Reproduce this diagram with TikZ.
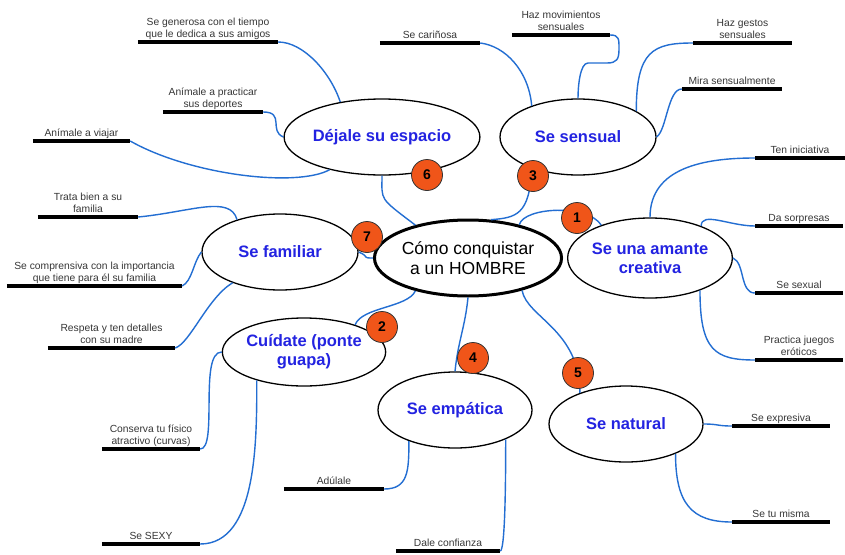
\documentclass[tikz,border=0pt]{standalone}
\usepackage{fontspec}
\setmainfont{Liberation Sans}
\usetikzlibrary{shapes.geometric}
\definecolor{conn}{RGB}{35,110,210}
\definecolor{lblue}{RGB}{35,35,225}
\definecolor{numorange}{RGB}{240,85,25}
\definecolor{ltext}{RGB}{55,55,55}
\begin{document}
\begin{tikzpicture}[x=1pt,y=-1pt,
  topic/.style={ellipse, draw=black, line width=1.3pt, fill=white, inner sep=0pt,
    font=\fontsize{16.5}{19}\selectfont\bfseries, text=lblue, align=center},
  mainidea/.style={topic, line width=3pt, font=\fontsize{17.5}{20}\selectfont, text=black},
  num/.style={circle, draw=black!80, line width=0.8pt, fill=numorange, minimum size=31pt,
    inner sep=0pt, font=\fontsize{14}{14}\selectfont\bfseries},
  leaf/.style={anchor=south, align=center, font=\fontsize{10.3}{12.5}\selectfont, text=ltext,
    inner xsep=0pt, inner ysep=1.5pt, text depth=2.5pt},
  bar/.style={line width=4pt, black},
  link/.style={draw=conn, line width=1.4pt}]
\useasboundingbox[fill=white] (0,0) rectangle (845,554);

% topics
\node[mainidea, minimum width=156pt, minimum height=76pt] (ctr) at (468,258) {Cómo conquistar\\a un HOMBRE};
\node[topic, minimum width=154pt, minimum height=76pt] (dej) at (382,137) {Déjale su espacio};
\node[topic, minimum width=156pt, minimum height=76pt] (sen) at (578,137) {Se sensual};
\node[topic, minimum width=154pt, minimum height=80pt] (ama) at (650,258) {Se una amante\\creativa};
\node[topic, minimum width=156pt, minimum height=76pt] (fam) at (280,252) {Se familiar};
\node[topic, minimum width=152pt, minimum height=68pt] (cui) at (304,352) {Cuídate (ponte\\guapa)};
\node[topic, minimum width=154pt, minimum height=76pt] (emp) at (455,410) {Se empática};
\node[topic, minimum width=154pt, minimum height=76pt] (nat) at (626,424) {Se natural};

% leaves
\node[leaf, minimum width=140pt] (gen) at (208,42) {Se generosa con el tiempo\\que le dedica a sus amigos};
\node[leaf, minimum width=100pt] (dep) at (213,112) {Anímale a practicar\\sus deportes};
\node[leaf, minimum width=97pt] (via) at (81.5,141) {Anímale a viajar};
\node[leaf, minimum width=100pt] (tra) at (88,217) {Trata bien a su\\familia};
\node[leaf, minimum width=175pt] (com) at (94.5,286) {Se comprensiva con la importancia\\que tiene para él su familia};
\node[leaf, minimum width=127pt] (res) at (111.5,348) {Respeta y ten detalles\\con su madre};
\node[leaf, minimum width=98pt] (con) at (151,449) {Conserva tu físico\\atractivo (curvas)};
\node[leaf, minimum width=98pt] (sexy) at (151,544) {Se SEXY};
\node[leaf, minimum width=100pt] (adu) at (334,489) {Adúlale};
\node[leaf, minimum width=104pt] (dale) at (448,551) {Dale confianza};
\node[leaf, minimum width=98pt] (exp) at (781,426) {Se expresiva};
\node[leaf, minimum width=98pt] (mis) at (781,522) {Se tu misma};
\node[leaf, minimum width=88pt] (jue) at (799,360) {Practica juegos\\eróticos};
\node[leaf, minimum width=88pt] (sex) at (799,293) {Se sexual};
\node[leaf, minimum width=88pt] (sor) at (799,226) {Da sorpresas};
\node[leaf, minimum width=90pt] (ini) at (800,158) {Ten iniciativa};
\node[leaf, minimum width=100pt] (mira) at (732,89) {Mira sensualmente};
\node[leaf, minimum width=99pt] (ges) at (742.5,43) {Haz gestos\\sensuales};
\node[leaf, minimum width=98pt] (mov) at (561,35) {Haz movimientos\\sensuales};
\node[leaf, minimum width=100pt] (car) at (430,43) {Se cariñosa};

\foreach \l in {gen,dep,via,tra,com,res,con,sexy,adu,dale,exp,mis,jue,sex,sor,ini,mira,ges,mov,car}
  \draw[bar] (\l.south west) -- (\l.south east);

% bend points
\coordinate (m1) at (619,49);
\coordinate (m2) at (607,63);
\coordinate (m3) at (588,63);

% leaf connectors
\path[link] (gen.south east) .. controls +(25,0) and +(-10,-30) .. (dej.140);
\path[link] (dep.south east) .. controls +(22,0) and +(-15,-6) .. (dej.west);
\path[link] (via.south east) .. controls +(60,34) and +(-33,18) .. (dej.212);
\path[link] (tra.south east) .. controls +(52,-5) and +(-7,-25) .. (fam.143);
\path[link] (com.south east) .. controls +(10,-5) and +(-8,10) .. (fam.west);
\path[link] (res.south east) .. controls +(15,-5) and +(-25,15) .. (fam.213);
\path[link] (con.south east) .. controls +(18,0) and +(-23,0) .. (cui.west);
\path[link] (sexy.south east) .. controls +(57,0) and +(0,60) .. (cui.211);
\path[link] (adu.south east) .. controls +(24,0) and +(0,30) .. (emp.214);
\path[link] (dale.south east) .. controls +(5,0) and +(0,40) .. (emp.330);
\path[link] (nat.east) .. controls +(15,0) and +(-15,0) .. (exp.south west);
\path[link] (nat.329) .. controls +(0,50) and +(-40,0) .. (mis.south west);
\path[link] (ama.327) .. controls +(0,60) and +(-40,0) .. (jue.south west);
\path[link] (ama.east) .. controls +(12,5) and +(-15,0) .. (sex.south west);
\path[link] (ama.32) .. controls +(0,-15) and +(-25,0) .. (sor.south west);
\path[link] (ama.north) .. controls +(0,-50) and +(-50,0) .. (ini.south west);
\path[link] (sen.east) .. controls +(10,-7) and +(-14,0) .. (mira.south west);
\path[link] (sen.24) .. controls +(0,-60) and +(-40,0) .. (ges.south west);
\path[link] (mov.south east) .. controls +(9,0) and +(0,-10) .. (m1)
   .. controls +(0,10) and +(10,0) .. (m2) -- (m3)
   .. controls +(-8,0) and +(0,-12) .. (sen.north);
\path[link] (car.south east) .. controls +(25,3) and +(-3,-35) .. (sen.146);

% central connectors
\path[link] (ctr.148) .. controls +(-37,-28) and +(0,25) .. (dej.south);
\path[link] (ctr.59) .. controls +(25,-2) and +(-2,47) .. (sen.214);
\path[link] (ctr.33) .. controls +(5,-18) and +(-13,-21) .. (ama.146);
\path[link] (ctr.west) .. controls +(-12,0) and +(12,5) .. (fam.east);
\path[link] (ctr.212) .. controls +(-8,17) and +(7,-18) .. (cui.28);
\path[link] (ctr.south) .. controls +(-3,30) and +(3,-30) .. (emp.north);
\path[link] (ctr.329) .. controls +(5,27) and +(0,-63) .. (nat.146);

% numbers
\node[num] (n6) at (427,175) {6};
\node[num] (n3) at (533,176) {3};
\node[num] (n1) at (577,218) {1};
\node[num] (n7) at (367,237) {7};
\node[num] (n2) at (382,327) {2};
\node[num] (n4) at (473,358) {4};
\node[num] (n5) at (578,373) {5};
\end{tikzpicture}
\end{document}
